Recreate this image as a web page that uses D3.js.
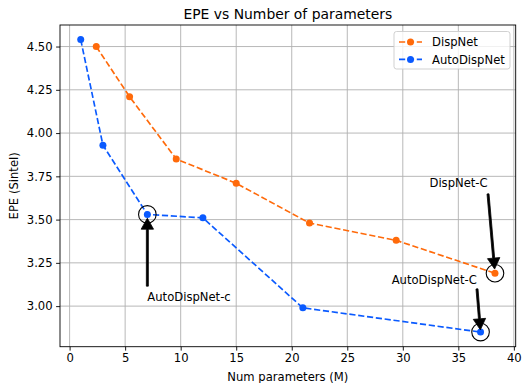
<!DOCTYPE html>
<html><head><meta charset="utf-8">
<script src="https://cdn.jsdelivr.net/npm/d3@7"></script>
<style>body{margin:0;background:#fff} text{font-family:"DejaVu Sans",sans-serif;fill:#000}</style>
</head><body><svg id="c" width="528" height="383"></svg>
<script>
const dispnetX = [2.4, 5.4, 9.6, 15.0, 21.6, 29.4, 38.3];
const dispnetY = [4.50, 4.21, 3.85, 3.71, 3.48, 3.38, 3.19];
const autoX = [1.0, 3.0, 7.0, 12.0, 21.0, 37.0];
const autoY = [4.54, 3.93, 3.53, 3.51, 2.99, 2.85];
const xTicks = [0, 5, 10, 15, 20, 25, 30, 35, 40];
const yTicks = [3.00, 3.25, 3.50, 3.75, 4.00, 4.25, 4.50];
const seriesNames = ["DispNet", "AutoDispNet"];
const seriesColors = ["#ff6a0a", "#0a5aff"];
const annoLabels = ["AutoDispNet-c", "DispNet-C", "AutoDispNet-C"];
const annoPointX = [7.0, 38.3, 37.0];
const annoPointY = [3.53, 3.19, 2.85];
const annoTextX = [7.0, 32.4, 29.0];
const annoTextY = [3.03, 3.69, 3.13];
const titleText = "EPE vs Number of parameters";
const xLabel = "Num parameters (M)";
const yLabel = "EPE (Sintel)";

const FS = "11.6px";
const series = [
  {name: seriesNames[0], color: seriesColors[0], pts: dispnetX.map((x, i) => [x, dispnetY[i]])},
  {name: seriesNames[1], color: seriesColors[1], pts: autoX.map((x, i) => [x, autoY[i]])}
];

const L = 60, R = 515.7, T = 25, B = 346.7;
const svg = d3.select("#c");
const allX = dispnetX.concat(autoX), allY = dispnetY.concat(autoY);
const [x0, x1] = d3.extent(allX), [y0, y1] = d3.extent(allY);
const mx = (x1 - x0) * 0.05, my = (y1 - y0) * 0.05;
const x = d3.scaleLinear().domain([x0 - mx, x1 + mx]).range([L, R]);
const y = d3.scaleLinear().domain([y0 - my, y1 + my]).range([B, T]);

// grid
const grid = svg.append("g");
grid.selectAll(".gx").data(xTicks).enter().append("line")
  .attr("x1", d => x(d)).attr("x2", d => x(d)).attr("y1", T).attr("y2", B)
  .attr("stroke", "#b0b0b0").attr("stroke-width", 0.9);
grid.selectAll(".gy").data(yTicks).enter().append("line")
  .attr("y1", d => y(d)).attr("y2", d => y(d)).attr("x1", L).attr("x2", R)
  .attr("stroke", "#b0b0b0").attr("stroke-width", 0.9);

// axes
const xa = svg.append("g").attr("transform", `translate(0,${B})`)
  .call(d3.axisBottom(x).tickValues(xTicks).tickSize(3.9).tickPadding(3.5).tickFormat(d3.format("d")));
const ya = svg.append("g").attr("transform", `translate(${L},0)`)
  .call(d3.axisLeft(y).tickValues(yTicks).tickSize(3.9).tickPadding(3.5).tickFormat(d3.format(".2f")));
[xa, ya].forEach(a => {
  a.select(".domain").remove();
  a.selectAll("text").style("font-size", FS).style("font-family", "DejaVu Sans");
  a.selectAll("line").attr("stroke", "#000").attr("stroke-width", 0.9);
});

// lines + markers
const lineGen = d3.line().x(d => x(d[0])).y(d => y(d[1]));
series.forEach(s => {
  svg.append("path").attr("d", lineGen(s.pts)).attr("fill", "none")
    .attr("stroke", s.color).attr("stroke-width", 1.67).attr("stroke-dasharray", "6.2,2.7");
  svg.append("g").selectAll("circle").data(s.pts).enter().append("circle")
    .attr("cx", d => x(d[0])).attr("cy", d => y(d[1])).attr("r", 3.5).attr("fill", s.color);
});

// highlight circles
svg.append("g").selectAll("circle").data(annoPointX).enter().append("circle")
  .attr("cx", (d, i) => x(d)).attr("cy", (d, i) => y(annoPointY[i])).attr("r", 8.8)
  .attr("fill", "none").attr("stroke", "#000").attr("stroke-width", 1.1);

// annotations
annoLabels.forEach((lab, i) => {
  const t = svg.append("text").attr("x", x(annoTextX[i])).attr("y", y(annoTextY[i]))
    .style("font-size", FS).text(lab);
  const bb = t.node().getBBox();
  const px = x(annoPointX[i]), py = y(annoPointY[i]);
  const cx = [bb.x, bb.x + bb.width / 2, bb.x + bb.width];
  const cy = [bb.y, bb.y + bb.height / 2, bb.y + bb.height];
  const sx = cx.reduce((a, b) => Math.abs(b - px) < Math.abs(a - px) ? b : a);
  const sy = cy.reduce((a, b) => Math.abs(b - py) < Math.abs(a - py) ? b : a);
  let dx = px - sx, dy = py - sy;
  const len = Math.hypot(dx, dy);
  const ux = dx / len, uy = dy / len;
  const sh = 0.05 * len;
  const tx = sx + ux * sh, ty = sy + uy * sh;
  const hx = px - ux * sh, hy = py - uy * sh;
  const hl = 11, hw = 6.2, sw = 1;
  const bx = hx - ux * hl, by = hy - uy * hl;
  const nx = -uy, ny = ux;
  const poly = [
    [tx + nx * sw, ty + ny * sw], [bx + nx * sw, by + ny * sw], [bx + nx * hw, by + ny * hw],
    [hx, hy], [bx - nx * hw, by - ny * hw], [bx - nx * sw, by - ny * sw], [tx - nx * sw, ty - ny * sw]
  ];
  svg.append("path").attr("d", "M" + poly.map(p => p.join(",")).join("L") + "Z")
    .attr("fill", "#000").attr("stroke", "#000").attr("stroke-width", 0.8);
});

// spines
svg.append("rect").attr("x", L).attr("y", T).attr("width", R - L).attr("height", B - T)
  .attr("fill", "none").attr("stroke", "#000").attr("stroke-width", 0.9);

// title & labels
svg.append("text").attr("x", (L + R) / 2).attr("y", 18.5).attr("text-anchor", "middle")
  .style("font-size", "13.9px").text(titleText);
svg.append("text").attr("x", (L + R) / 2).attr("y", 380.5).attr("text-anchor", "middle")
  .style("font-size", FS).text(xLabel);
svg.append("text").attr("transform", `translate(18,${(T + B) / 2}) rotate(-90)`).attr("text-anchor", "middle")
  .style("font-size", FS).text(yLabel);

// legend
const lg = svg.append("g");
lg.append("rect").attr("x", 394).attr("y", 31.5).attr("width", 116).attr("height", 37.5).attr("rx", 2.5)
  .attr("fill", "#fff").attr("fill-opacity", 0.8).attr("stroke", "#cccccc").attr("stroke-width", 0.9);
series.forEach((s, i) => {
  const ly = 42 + i * 17.4;
  lg.append("line").attr("x1", 399).attr("x2", 422).attr("y1", ly).attr("y2", ly)
    .attr("stroke", s.color).attr("stroke-width", 1.67).attr("stroke-dasharray", "6.2,2.7");
  lg.append("circle").attr("cx", 410.5).attr("cy", ly).attr("r", 3.5).attr("fill", s.color);
  lg.append("text").attr("x", 432).attr("y", ly + 4.2).style("font-size", FS).text(s.name);
});
</script></body></html>
